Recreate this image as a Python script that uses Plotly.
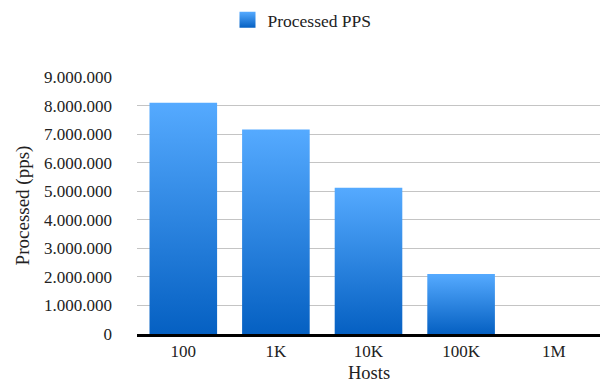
import plotly.graph_objects as go

# Packet processing throughput by number of hosts
hosts = ["100", "1K", "10K", "100K", "1M"]
processed_pps = [8100000, 7160000, 5120000, 2100000, 0]
series_name = "Processed PPS"
x_title = "Hosts"
y_title = "Processed (pps)"

bar_width = 0.73
top_color, bottom_color = "#55aaff", "#0560c2"
gradient = [[0.0, bottom_color], [1.0, top_color]]

fig = go.Figure()
for i, (label, val) in enumerate(zip(hosts, processed_pps)):
    x0, x1 = i - bar_width / 2, i + bar_width / 2
    fig.add_trace(go.Scatter(
        x=[x0, x1, x1, x0, x0],
        y=[0, 0, val, val, 0],
        mode="none",
        fill="toself",
        fillgradient=dict(type="vertical", colorscale=gradient,
                          start=0, stop=max(val, 1)),
        showlegend=False,
        hoverinfo="skip",
    ))

# legend swatch: gradient-filled square marker
fig.add_trace(go.Scatter(
    x=[None], y=[None], mode="markers", name=series_name,
    marker=dict(symbol="square", size=17, color=top_color,
                gradient=dict(type="vertical", color=bottom_color)),
))

serif = "Liberation Serif, Times New Roman, serif"
fig.update_layout(
    width=604, height=383,
    margin=dict(l=137, r=4, t=77, b=49, autoexpand=False),
    paper_bgcolor="white", plot_bgcolor="white",
    separators=",.",
    font=dict(family=serif, size=17, color="#222"),
    showlegend=True,
    legend=dict(orientation="h", xref="container", x=0.5, xanchor="center",
                yref="container", y=0.995, yanchor="top",
                font=dict(family=serif, size=17.5, color="#222"),
                itemwidth=30),
    xaxis=dict(
        range=[-0.5, 4.5], automargin=False,
        tickmode="array", tickvals=list(range(len(hosts))), ticktext=hosts,
        showgrid=False, zeroline=False,
        showline=True, linecolor="black", linewidth=3,
        ticks="", ticklabelstandoff=0,
        tickfont=dict(family=serif, size=17),
    ),
    yaxis=dict(
        range=[0, 9000000], dtick=1000000, tickformat=",d", automargin=False,
        showgrid=True, gridcolor="#c4c4c4", gridwidth=1,
        zeroline=False, showline=False, ticks="",
        ticklabelstandoff=24,
        title=dict(text=y_title, font=dict(family=serif, size=19), standoff=9),
        tickfont=dict(family=serif, size=17),
    ),
)

# x-axis title placed below the tick labels
fig.add_annotation(
    text=x_title, xref="paper", yref="paper", x=0.5, y=0,
    xanchor="center", yanchor="middle", yshift=-39, showarrow=False,
    font=dict(family=serif, size=18.5, color="#222"),
)

fig.write_html("out.html")
